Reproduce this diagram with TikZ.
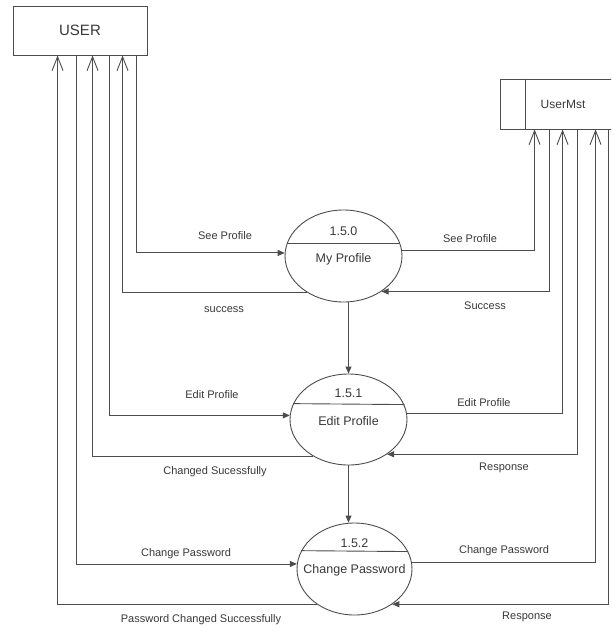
\documentclass[tikz,border=0pt]{standalone}
\usepackage{fontspec}
\setmainfont{Liberation Sans}
\usepackage{tikz}
\usetikzlibrary{arrows.meta,calc,shapes.geometric}

\colorlet{lineclr}{black!70}
\colorlet{textclr}{black!78}

\begin{document}
\begin{tikzpicture}[x=1pt, y=-1pt,
    line/.style={draw=lineclr, line width=0.9pt},
    flow/.style={line, -{Triangle[length=7pt,width=6pt]}},
    toent/.style={line, -{Straight Barb[length=14pt,width=11pt]}},
    entity/.style={line, rectangle, inner sep=0pt, text=textclr},
    process/.style={line, ellipse, inner sep=0pt, minimum width=117pt},
    numtxt/.style={text=textclr, font=\fontsize{12.5}{14}\selectfont, inner sep=0pt},
    lbl/.style={text=textclr, font=\fontsize{11}{13}\selectfont, inner sep=0pt}]

    \clip (0,0) rectangle (611,632);

    % entities
    \node[entity, minimum width=134pt, minimum height=49pt,
          font=\fontsize{15}{17}\selectfont] (user) at (80,30.5) {USER};
    \node[entity, minimum width=120pt, minimum height=50pt,
          font=\fontsize{12}{14}\selectfont] (mst) at (560,104) {\hspace{6pt}UserMst};
    \draw[line] ($(mst.north west)+(26,0)$) -- ($(mst.south west)+(26,0)$);

    % processes
    \node[process, minimum height=92pt] (myp) at (343.5,256) {};
    \node[process, minimum height=91pt] (edp) at (348.5,419.5) {};
    \node[process, minimum width=115pt, minimum height=92pt] (chp) at (354.5,569) {};

    \draw[line] (myp.168) -- (myp.12);
    \draw[line] (edp.164.3) -- (edp.15.7);
    \draw[line] (chp.161.2) -- (chp.18.8);

    \node[numtxt] (myp-no) at ($(myp.center)+(0,-25)$) {1.5.0};
    \node[numtxt] (myp-tx) at ($(myp.center)+(0,3)$) {My Profile};
    \node[numtxt] (edp-no) at ($(edp.center)+(0,-26.5)$) {1.5.1};
    \node[numtxt] (edp-tx) at ($(edp.center)+(0,1.5)$) {Edit Profile};
    \node[numtxt] (chp-no) at ($(chp.center)+(0,-26)$) {1.5.2};
    \node[numtxt] (chp-tx) at ($(chp.center)+(0,1)$) {Change Password};

    % flows between processes
    \draw[flow] (edp.north |- myp.south) -- (edp.north);
    \draw[flow] (edp.south) -- (edp.south |- chp.north);

    % flows with USER
    \draw[flow] ($(user.south west)+(124,0)$) |- (myp.177);
    \draw[toent] (myp.225) -| ($(user.south west)+(110,0)$);
    \draw[flow] ($(user.south west)+(97,0)$) |- (edp.176.6);
    \draw[toent] (edp.226) -| ($(user.south west)+(80,0)$);
    \draw[flow] ($(user.south west)+(64,0)$) |- (chp.175);
    \draw[toent] (chp.223) -| ($(user.south west)+(45,0)$);

    % flows with UserMst
    \draw[toent] (myp.5) -| ($(mst.south west)+(35,0)$);
    \draw[flow] ($(mst.south west)+(50,0)$) |- (myp.317);
    \draw[toent] (edp.6.4) -| ($(mst.south west)+(63,0)$);
    \draw[flow] ($(mst.south west)+(78,0)$) |- (edp.318);
    \draw[toent] (chp.7) -| ($(mst.south west)+(96,0)$);
    \draw[flow] ($(mst.south west)+(109,0)$) |- (chp.317);

    % labels
    \node[lbl] (l-seeu) at (225,236) {See Profile};
    \node[lbl] (l-succu) at (224,310) {success};
    \node[lbl] (l-seem) at (470,239) {See Profile};
    \node[lbl] (l-succm) at (485,306) {Success};
    \node[lbl] (l-editu) at (212,395) {Edit Profile};
    \node[lbl] (l-chgu) at (215,472) {Changed Sucessfully};
    \node[lbl] (l-editm) at (484,403) {Edit Profile};
    \node[lbl] (l-resp1) at (504,468) {Response};
    \node[lbl] (l-pwu) at (186,554) {Change Password};
    \node[lbl] (l-pwok) at (201,620) {Password Changed Successfully};
    \node[lbl] (l-pwm) at (504,551) {Change Password};
    \node[lbl] (l-resp2) at (527,617) {Response};
\end{tikzpicture}
\end{document}
